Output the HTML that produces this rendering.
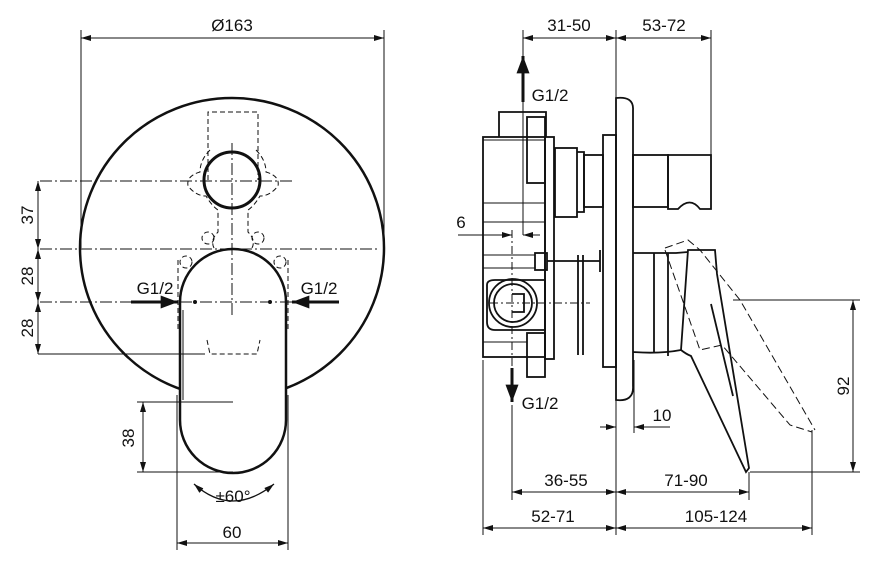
<!DOCTYPE html>
<html><head><meta charset="utf-8"><style>
html,body{margin:0;padding:0;background:#fff}
svg{display:block}
text{font-family:"Liberation Sans",Arial,sans-serif;font-size:17px;fill:#111}
</style></head><body>
<svg width="886" height="568" viewBox="0 0 886 568" xmlns="http://www.w3.org/2000/svg">
<defs>
<marker id="a" viewBox="0 0 10 6" refX="10" refY="3" markerWidth="12" markerHeight="6" orient="auto-start-reverse" markerUnits="userSpaceOnUse"><path d="M0,0 L10,3 L0,6 z" fill="#111"/></marker>
<marker id="b" viewBox="0 0 16 12" refX="16" refY="6" markerWidth="18" markerHeight="13" orient="auto" markerUnits="userSpaceOnUse"><path d="M0,0 L16,6 L0,12 z" fill="#111"/></marker>
<clipPath id="cl"><path d="M0,0 H886 V568 H0 Z M180,300 V420 A53,53 0 0 0 286,420 V300 Z" clip-rule="evenodd"/></clipPath>
</defs>
<g stroke="#111" fill="none" stroke-width="1">
<!-- LEFT VIEW -->
<line x1="81" y1="30" x2="81" y2="248"/><line x1="384" y1="30" x2="384" y2="248"/>
<line x1="81" y1="38" x2="384" y2="38" marker-start="url(#a)" marker-end="url(#a)"/>
<g clip-path="url(#cl)"><ellipse cx="232" cy="248" rx="152" ry="150" stroke-width="2.5"/></g>
<circle cx="232" cy="180" r="28" stroke-width="3"/>
<g stroke-dasharray="12,3,2,3">
<line x1="40" y1="181" x2="292" y2="181"/>
<line x1="40" y1="249" x2="380" y2="249"/>
<line x1="40" y1="302" x2="330" y2="302"/>
<line x1="232" y1="143" x2="232" y2="318"/>
</g>
<line x1="38" y1="354" x2="205" y2="354"/>
<line x1="38" y1="181" x2="38" y2="249" marker-start="url(#a)" marker-end="url(#a)"/>
<line x1="38" y1="249" x2="38" y2="302" marker-start="url(#a)" marker-end="url(#a)"/>
<line x1="38" y1="302" x2="38" y2="354" marker-start="url(#a)" marker-end="url(#a)"/>
<g stroke-dasharray="5,3">
<path d="M208,180 V112 H258 V180"/>
<path d="M210,150 Q200,160 200,172 Q186,176 188,186 Q196,196 206,196 Q212,206 218,210 V232 Q210,240 214,248"/>
<path d="M256,150 Q266,160 266,172 Q280,176 278,186 Q270,196 260,196 Q254,206 248,210 V232 Q256,240 252,248"/>
<circle cx="208" cy="238" r="6"/><circle cx="258" cy="238" r="6"/>
<circle cx="186" cy="262" r="6"/><circle cx="280" cy="262" r="6"/>
<path d="M178,260 V330"/><path d="M288,260 V330"/>
<path d="M207,340 L210,354 H257 L260,340"/>
</g>
<path d="M180,302 A53,53 0 0 1 286,302 V420 A53,53 0 0 1 180,420 Z" stroke-width="2.5"/>
<line x1="183" y1="310" x2="183" y2="400"/>
<circle cx="195" cy="302" r="1.5" fill="#111"/><circle cx="270" cy="302" r="1.5" fill="#111"/>
<line x1="137" y1="402" x2="233" y2="402"/><line x1="137" y1="472" x2="233" y2="472"/>
<line x1="143" y1="402" x2="143" y2="472" marker-start="url(#a)" marker-end="url(#a)"/>
<line x1="177" y1="395" x2="177" y2="550"/><line x1="288" y1="395" x2="288" y2="550"/>
<line x1="177" y1="543" x2="288" y2="543" marker-start="url(#a)" marker-end="url(#a)"/>
<path d="M194,484 Q232,518 274,484" stroke-width="1.3" marker-start="url(#a)" marker-end="url(#a)"/>
<line x1="131" y1="302" x2="178" y2="302" stroke-width="3" marker-end="url(#b)"/>
<line x1="339" y1="302" x2="292" y2="302" stroke-width="3" marker-end="url(#b)"/>

<!-- RIGHT VIEW -->
<line x1="523" y1="30" x2="523" y2="58"/><line x1="616" y1="30" x2="616" y2="535"/><line x1="711" y1="30" x2="711" y2="155"/>
<line x1="523" y1="38" x2="616" y2="38" marker-start="url(#a)" marker-end="url(#a)"/>
<line x1="616" y1="38" x2="711" y2="38" marker-start="url(#a)" marker-end="url(#a)"/>
<line x1="523" y1="102" x2="523" y2="56" stroke-width="3" marker-end="url(#b)"/>
<line x1="523" y1="100" x2="523" y2="235"/>
<g stroke-width="1.8">
<rect x="483" y="137" width="62" height="220"/>
<rect x="545" y="137" width="9" height="222"/>
<path d="M499,137 V112 H546 V137"/>
<rect x="527" y="117" width="18" height="66"/>
<rect x="555" y="148" width="22" height="69"/>
<path d="M577,152 H584 V212 H577"/>
<rect x="584" y="155" width="19" height="52"/>
<rect x="603" y="135" width="13" height="232"/>
<path d="M616,98 Q634,96 633,110 V386 Q634,402 616,400 Z"/>
<rect x="633" y="155" width="35" height="52"/>
<path d="M668,155 H711 V209 H700 Q690,196 678,209 H668 Z"/>
<path d="M487,285 Q487,280 495,280 H545 V330 H495 Q487,330 487,322 Z"/>
<circle cx="513" cy="303" r="24"/><circle cx="513" cy="303" r="19"/>
<path d="M512,294 H524 V312 H512"/>
<rect x="527" y="333" width="18" height="44"/>
<rect x="535" y="253" width="12" height="17"/>
<line x1="547" y1="261" x2="600" y2="261"/>
<line x1="600" y1="250" x2="600" y2="272"/>
<line x1="578" y1="255" x2="578" y2="355"/><line x1="583" y1="255" x2="583" y2="355"/>
<path d="M633,253 H676 L688,252"/>
<path d="M688,250 H715 L717,274 L749,468 L746,472 L691,356 Q686,354 681,350 L688,250 Z"/>
<path d="M633,352 Q660,354 681,350"/>
<line x1="711" y1="304" x2="733" y2="396"/>
<line x1="654" y1="253" x2="654" y2="353"/><line x1="668" y1="253" x2="668" y2="356"/>
</g>
<g stroke-dasharray="8,4">
<path d="M665,248 L688,240 L700,250 L740,300 L815,430"/>
<path d="M665,250 L700,350 L722,345 L790,425 L812,432"/>
</g>
<line x1="483" y1="140" x2="545" y2="140"/>
<line x1="483" y1="203" x2="545" y2="203"/><line x1="483" y1="222" x2="545" y2="222"/>
<line x1="483" y1="255" x2="535" y2="255"/><line x1="483" y1="268" x2="535" y2="268"/>
<line x1="483" y1="342" x2="527" y2="342"/>
<line x1="512" y1="230" x2="512" y2="370" stroke-dasharray="8,3,2,3"/>
<line x1="490" y1="303" x2="590" y2="303" stroke-dasharray="8,3,2,3"/>
<line x1="458" y1="235" x2="512" y2="235" marker-end="url(#a)"/>
<line x1="540" y1="235" x2="523" y2="235" marker-end="url(#a)"/>
<line x1="512" y1="368" x2="512" y2="402" stroke-width="3" marker-end="url(#b)"/>
<line x1="733" y1="300" x2="860" y2="300"/><line x1="750" y1="472" x2="860" y2="472"/>
<line x1="853" y1="300" x2="853" y2="472" marker-start="url(#a)" marker-end="url(#a)"/>
<line x1="634" y1="360" x2="634" y2="433"/>
<line x1="600" y1="427" x2="616" y2="427" marker-end="url(#a)"/>
<line x1="670" y1="427" x2="634" y2="427" marker-end="url(#a)"/>
<line x1="483" y1="360" x2="483" y2="535"/><line x1="512" y1="405" x2="512" y2="500"/>
<line x1="749" y1="472" x2="749" y2="500"/><line x1="812" y1="430" x2="812" y2="535"/>
<line x1="512" y1="492" x2="616" y2="492" marker-start="url(#a)" marker-end="url(#a)"/>
<line x1="616" y1="492" x2="749" y2="492" marker-start="url(#a)" marker-end="url(#a)"/>
<line x1="483" y1="528" x2="616" y2="528" marker-start="url(#a)" marker-end="url(#a)"/>
<line x1="616" y1="528" x2="812" y2="528" marker-start="url(#a)" marker-end="url(#a)"/>
</g>
<g>
<text x="232" y="31" text-anchor="middle">Ø163</text>
<text transform="translate(33,215) rotate(-90)" text-anchor="middle">37</text>
<text transform="translate(33,276) rotate(-90)" text-anchor="middle">28</text>
<text transform="translate(33,328) rotate(-90)" text-anchor="middle">28</text>
<text transform="translate(134,438) rotate(-90)" text-anchor="middle">38</text>
<text x="155" y="294" text-anchor="middle">G1/2</text>
<text x="319" y="294" text-anchor="middle">G1/2</text>
<text x="233" y="502" text-anchor="middle">±60°</text>
<text x="232" y="538" text-anchor="middle">60</text>
<text x="569" y="31" text-anchor="middle">31-50</text>
<text x="664" y="31" text-anchor="middle">53-72</text>
<text x="550" y="101" text-anchor="middle">G1/2</text>
<text x="461" y="228" text-anchor="middle">6</text>
<text x="540" y="409" text-anchor="middle">G1/2</text>
<text x="662" y="421" text-anchor="middle">10</text>
<text transform="translate(849,386) rotate(-90)" text-anchor="middle">92</text>
<text x="566" y="486" text-anchor="middle">36-55</text>
<text x="686" y="486" text-anchor="middle">71-90</text>
<text x="553" y="522" text-anchor="middle">52-71</text>
<text x="716" y="522" text-anchor="middle">105-124</text>
</g>
</svg>
</body></html>
